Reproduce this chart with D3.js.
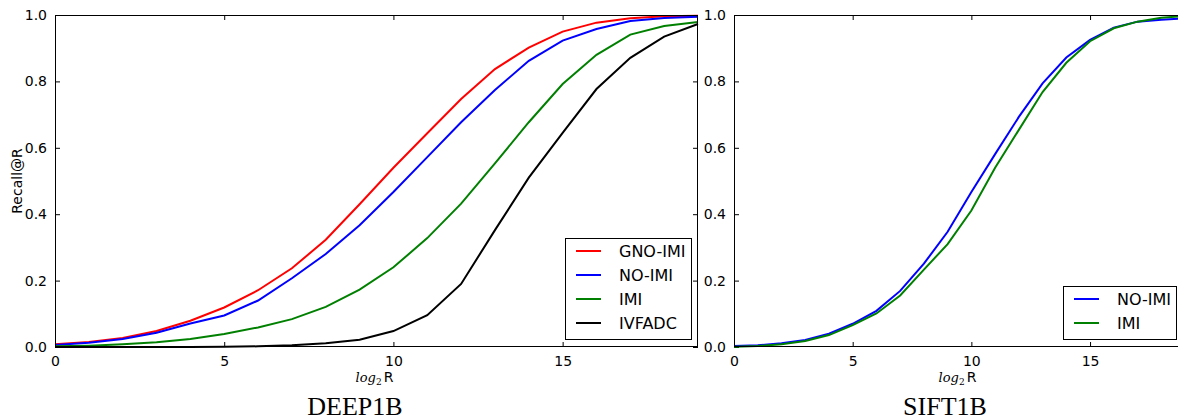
<!DOCTYPE html>
<html>
<head>
<meta charset="utf-8">
<script src="https://cdn.jsdelivr.net/npm/d3@7"></script>
<style>
  body { margin: 0; background: #fff; }
  svg { display: block; }
  .tick text { font-family: "DejaVu Sans", sans-serif; font-size: 14px; fill: #000; }
  .tick line { stroke: #000; }
  .domain { display: none; }
</style>
</head>
<body>
<div id="plot"></div>
<script>
// log2 R, one point per integer step
const steps = d3.range(0, 20);
const xTicks = [0, 5, 10, 15];
const yTicks = [0, 0.2, 0.4, 0.6, 0.8, 1.0];

// DEEP1B
const deepGnoImi = [0.008, 0.015, 0.027, 0.048, 0.079, 0.119, 0.171, 0.237, 0.323, 0.43, 0.54, 0.644, 0.747, 0.837, 0.902, 0.95, 0.977, 0.99, 0.996, 0.998];
const deepNoImi  = [0.006, 0.013, 0.024, 0.043, 0.071, 0.095, 0.14, 0.207, 0.28, 0.367, 0.467, 0.572, 0.677, 0.774, 0.862, 0.923, 0.958, 0.982, 0.991, 0.995];
const deepImi    = [0.002, 0.004, 0.008, 0.014, 0.024, 0.039, 0.059, 0.084, 0.121, 0.173, 0.24, 0.328, 0.432, 0.553, 0.677, 0.792, 0.88, 0.941, 0.967, 0.979];
const deepIvfadc = [0, 0, 0, 0, 0, 0.001, 0.002, 0.005, 0.011, 0.022, 0.048, 0.096, 0.19, 0.352, 0.51, 0.645, 0.777, 0.871, 0.935, 0.973];

// SIFT1B
const siftNoImi = [0.003, 0.005, 0.011, 0.021, 0.04, 0.07, 0.109, 0.169, 0.251, 0.347, 0.467, 0.581, 0.693, 0.794, 0.872, 0.925, 0.962, 0.98, 0.986, 0.99];
const siftImi   = [0.001, 0.003, 0.008, 0.018, 0.036, 0.066, 0.101, 0.155, 0.233, 0.31, 0.411, 0.54, 0.654, 0.768, 0.856, 0.921, 0.96, 0.98, 0.992, 0.997];

const svg = d3.select("#plot")
	.append("svg")
	.attr("width", 1178)
	.attr("height", 419);

function drawPanel(p) {
	var x = d3.scaleLinear().domain([0, 19]).range([p.left, p.left + p.width]);
	var y = d3.scaleLinear().domain([0, 1]).range([347, 15]);

	var g = svg.append("g");

	// ticks point inwards on all four sides
	g.append("g")
		.attr("transform", "translate(0,347)")
		.call(d3.axisBottom(x).tickValues(xTicks).tickSize(-5).tickPadding(9).tickFormat(d3.format("d")));
	g.append("g")
		.attr("transform", "translate(0,15)")
		.call(d3.axisTop(x).tickValues(xTicks).tickSize(-5).tickFormat(""));
	g.append("g")
		.attr("transform", "translate(" + p.left + ",0)")
		.call(d3.axisLeft(y).tickValues(yTicks).tickSize(-5).tickPadding(8).tickFormat(d3.format(".1f")));
	g.append("g")
		.attr("transform", "translate(" + (p.left + p.width) + ",0)")
		.call(d3.axisRight(y).tickValues(yTicks).tickSize(-5).tickFormat(""));

	var line = d3.line()
		.x(function (d, i) { return x(steps[i]); })
		.y(function (d) { return y(d); });

	p.series.forEach(function (s) {
		g.append("path")
			.datum(s.values)
			.attr("fill", "none")
			.attr("stroke", s.color)
			.attr("stroke-width", 2)
			.attr("d", line);
	});

	// frame
	g.append("rect")
		.attr("x", p.left + 0.5)
		.attr("y", 15.5)
		.attr("width", p.width - 1)
		.attr("height", 331)
		.attr("fill", "none")
		.attr("stroke", "#000")
		.attr("stroke-width", 1);

	// legend
	var leg = g.append("g").attr("transform", "translate(" + p.legend.x + "," + p.legend.y + ")");
	leg.append("rect")
		.attr("x", 0.5).attr("y", 0.5)
		.attr("width", p.legend.w).attr("height", p.legend.h)
		.attr("fill", "#fff")
		.attr("stroke", "#000");
	p.series.forEach(function (s, i) {
		var cy = 13 + i * 24;
		leg.append("line")
			.attr("x1", 11).attr("x2", 36)
			.attr("y1", cy).attr("y2", cy)
			.attr("stroke", s.color)
			.attr("stroke-width", 2);
		leg.append("text")
			.attr("x", 54).attr("y", cy)
			.attr("dy", "0.36em")
			.style("font-family", "DejaVu Sans, sans-serif")
			.style("font-size", "16px")
			.text(s.name);
	});

	// x label: log_2 R
	var xl = g.append("text")
		.attr("x", (p.left + p.left + p.width) / 2 - 2)
		.attr("y", 382)
		.attr("text-anchor", "middle")
		.style("font-size", "14px");
	xl.append("tspan").style("font-family", "DejaVu Serif, serif").style("font-style", "italic").style("font-size", "13px").text("log");
	xl.append("tspan").style("font-family", "DejaVu Serif, serif").style("font-size", "9px").attr("dy", 3).text("2");
	xl.append("tspan").style("font-family", "DejaVu Sans, sans-serif").attr("dy", -3).attr("dx", 2).text("R");

	// title under the panel
	g.append("text")
		.attr("x", p.titleX)
		.attr("y", 415)
		.attr("text-anchor", "middle")
		.style("font-family", "Liberation Serif, Times New Roman, serif")
		.style("font-size", "26px")
		.text(p.title);
}

drawPanel({
	left: 55, width: 643, title: "DEEP1B", titleX: 355,
	legend: {x: 565, y: 238, w: 126, h: 101},
	series: [
		{name: "GNO-IMI", color: "#ff0000", values: deepGnoImi},
		{name: "NO-IMI", color: "#0000ff", values: deepNoImi},
		{name: "IMI", color: "#008000", values: deepImi},
		{name: "IVFADC", color: "#000000", values: deepIvfadc}
	]
});

drawPanel({
	left: 734, width: 451, title: "SIFT1B", titleX: 945,
	legend: {x: 1063, y: 286, w: 113, h: 53},
	series: [
		{name: "NO-IMI", color: "#0000ff", values: siftNoImi},
		{name: "IMI", color: "#008000", values: siftImi}
	]
});

// y axis label, left panel only
svg.append("text")
	.attr("transform", "translate(22,181) rotate(-90)")
	.attr("text-anchor", "middle")
	.style("font-family", "DejaVu Sans, sans-serif")
	.style("font-size", "14px")
	.text("Recall@R");
</script>
</body>
</html>
